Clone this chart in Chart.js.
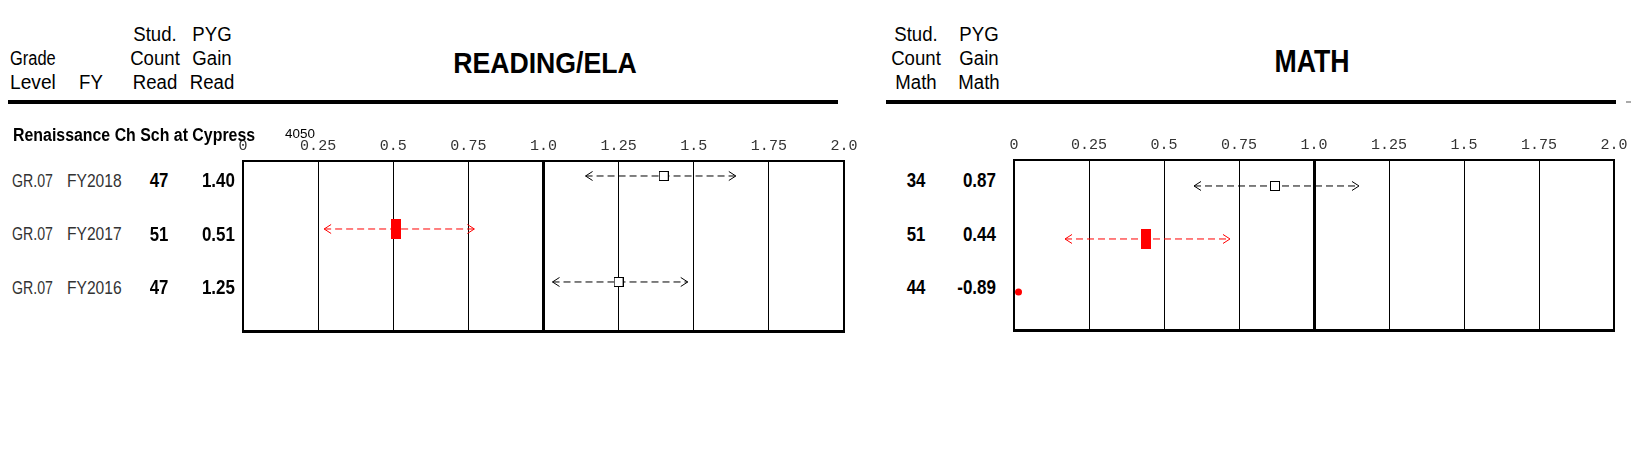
<!DOCTYPE html>
<html>
<head>
<meta charset="utf-8">
<script src="https://cdn.jsdelivr.net/npm/chart.js@4.4.1/dist/chart.umd.min.js"></script>
<style>
body { margin: 0; background: #fff; }
#page { position: relative; width: 1632px; height: 472px; overflow: hidden; background: #fff; font-family: 'Liberation Sans', Arial, sans-serif; }
.t { position: absolute; white-space: nowrap; line-height: 1; }
.rule { position: absolute; background: #000; height: 4px; top: 100px; }
canvas { position: absolute; }
</style>
</head>
<body>
<div id="page">
  <div class="rule" style="left:8px;width:830px"></div>
  <div class="rule" style="left:886px;width:730px"></div>
  <div class="rule" style="left:1626px;width:5px;height:2px;top:101px;background:#aaa"></div>
  <canvas id="readingChart" width="625" height="240" style="left:233px;top:115px"></canvas>
  <canvas id="mathChart" width="625" height="240" style="left:1004px;top:114px"></canvas>
</div>
<script>
const schoolName = 'Renaissance Ch Sch at Cypress';
const schoolCode = '4050';
const gradeLevels = ['GR.07', 'GR.07', 'GR.07'];
const fiscalYears = ['FY2018', 'FY2017', 'FY2016'];

const readCount = [47, 51, 47];
const readGain = [1.40, 0.51, 1.25];
const readLow = [1.14, 0.27, 1.03];
const readHigh = [1.64, 0.77, 1.48];

const mathCount = [34, 51, 44];
const mathGain = [0.87, 0.44, -0.89];
const mathLow = [0.60, 0.17, null];
const mathHigh = [1.15, 0.72, null];

const gainTicks = [0, 0.25, 0.5, 0.75, 1.0, 1.25, 1.5, 1.75, 2.0];
const gainTickLabels = ['0', '0.25', '0.5', '0.75', '1.0', '1.25', '1.5', '1.75', '2.0'];

const page = document.getElementById('page');

// text is placed by its baseline, squeezed a bit like the original report font
function addText(str, x, baseline, opt) {
    opt = opt || {};
    const size = opt.size || 20;
    const d = document.createElement('div');
    d.className = 't';
    d.textContent = str;
    d.style.fontSize = size + 'px';
    d.style.fontWeight = opt.bold ? '700' : '400';
    d.style.color = opt.color || '#000';
    d.style.left = x + 'px';
    d.style.top = (baseline - 0.85 * size) + 'px';
    page.appendChild(d);
    let sx = opt.sx || 0.93;
    if (opt.w) sx = opt.w / d.offsetWidth;
    const align = opt.align || 'left';
    if (align === 'center') {
        d.style.transformOrigin = '50% 50%';
        d.style.transform = 'translateX(-50%) scaleX(' + sx + ')';
    } else if (align === 'right') {
        d.style.transformOrigin = '100% 50%';
        d.style.transform = 'translateX(-100%) scaleX(' + sx + ')';
    } else {
        d.style.transformOrigin = '0 50%';
        d.style.transform = 'scaleX(' + sx + ')';
    }
}

// header
addText('Grade', 10, 65, { w: 46 });
addText('Level', 10, 89, { w: 46 });
addText('FY', 91, 89, { align: 'center' });
[['Stud.', 41], ['Count', 65], ['Read', 89]].forEach(r => addText(r[0], 155, r[1], { align: 'center' }));
[['PYG', 41], ['Gain', 65], ['Read', 89]].forEach(r => addText(r[0], 212, r[1], { align: 'center' }));
[['Stud.', 41], ['Count', 65], ['Math', 89]].forEach(r => addText(r[0], 916, r[1], { align: 'center' }));
[['PYG', 41], ['Gain', 65], ['Math', 89]].forEach(r => addText(r[0], 979, r[1], { align: 'center' }));
addText('READING/ELA', 545, 73, { size: 30, bold: true, align: 'center', w: 184 });
addText('MATH', 1312, 72, { size: 32, bold: true, align: 'center', w: 75 });

addText(schoolName, 13, 141, { size: 18, bold: true, w: 242 });
addText(schoolCode, 285, 138, { size: 13, w: 30 });

for (let i = 0; i < gradeLevels.length; i++) {
    const b = 187 + i * 53.5;
    addText(gradeLevels[i], 12, b, { size: 19, color: '#333', w: 41 });
    addText(fiscalYears[i], 67, b, { size: 19, color: '#333', w: 55 });
    addText(String(readCount[i]), 159, b, { bold: true, align: 'center', sx: 0.84 });
    addText(readGain[i].toFixed(2), 235, b, { bold: true, align: 'right', sx: 0.85 });
    addText(String(mathCount[i]), 916, b, { bold: true, align: 'center', sx: 0.84 });
    addText(mathGain[i].toFixed(2), 996, b, { bold: true, align: 'right', sx: 0.85 });
}

function marker(w, h, draw) {
    const c = document.createElement('canvas');
    c.width = w;
    c.height = h;
    draw(c.getContext('2d'));
    return c;
}
const redBox = marker(10, 20, g => { g.fillStyle = '#ff0000'; g.fillRect(0, 0, 10, 20); });
const openBox = marker(10, 10, g => {
    g.fillStyle = '#fff'; g.fillRect(0, 0, 10, 10);
    g.strokeStyle = '#000'; g.lineWidth = 1; g.strokeRect(0.5, 0.5, 9, 9);
});

function buildDatasets(gain, low, high) {
    const sets = [];
    gain.forEach((g, i) => {
        if (low[i] == null) return;
        const col = high[i] < 1 ? '#ff0000' : '#000';
        sets.push({
            type: 'line',
            data: [{ x: low[i], y: i }, { x: high[i], y: i }],
            borderColor: col,
            borderWidth: 1,
            borderDash: [7, 4],
            pointRadius: 0,
            arrows: true,
            order: 2
        });
    });
    const outside = i => gain[i] < 0 || gain[i] > 2;
    sets.push({
        type: 'scatter',
        data: gain.map((g, i) => ({ x: Math.min(Math.max(g, 0.015), 1.985), y: i })),
        pointStyle: c => outside(c.dataIndex) ? 'circle' : (high[c.dataIndex] < 1 ? redBox : openBox),
        pointRadius: c => outside(c.dataIndex) ? 3.5 : 6,
        backgroundColor: '#ff0000',
        borderWidth: 0,
        order: 1
    });
    return sets;
}

const arrowsAndFrame = {
    id: 'arrowsAndFrame',
    afterDraw(chart) {
        const ctx = chart.ctx;
        const a = chart.chartArea;
        ctx.save();
        chart.data.datasets.forEach((ds, di) => {
            if (!ds.arrows) return;
            const pts = chart.getDatasetMeta(di).data;
            const l = pts[0], r = pts[1];
            ctx.strokeStyle = ds.borderColor;
            ctx.lineWidth = 1;
            ctx.beginPath();
            ctx.moveTo(l.x + 7, l.y - 4.5); ctx.lineTo(l.x, l.y); ctx.lineTo(l.x + 7, l.y + 4.5);
            ctx.moveTo(r.x - 7, r.y - 4.5); ctx.lineTo(r.x, r.y); ctx.lineTo(r.x - 7, r.y + 4.5);
            ctx.stroke();
        });
        ctx.strokeStyle = '#000';
        ctx.lineWidth = 2;
        ctx.strokeRect(a.left, a.top, a.right - a.left, a.bottom - a.top);
        ctx.fillStyle = '#000';
        ctx.fillRect(a.left - 1, a.bottom - 1, a.right - a.left + 2, 3);
        ctx.restore();
    }
};

function createGainChart(canvasId, gain, low, high, yMin, yMax, pad) {
    return new Chart(document.getElementById(canvasId), {
        type: 'scatter',
        data: { datasets: buildDatasets(gain, low, high) },
        options: {
            responsive: false,
            animation: false,
            layout: { padding: pad },
            plugins: { legend: { display: false }, tooltip: { enabled: false } },
            scales: {
                x: {
                    type: 'linear',
                    position: 'top',
                    min: 0,
                    max: 2,
                    afterBuildTicks: s => { s.ticks = gainTicks.map(v => ({ value: v })); },
                    afterFit: s => { s.height = 46; s.paddingLeft = 0; s.paddingRight = 0; },
                    ticks: {
                        callback: (v, i) => gainTickLabels[i],
                        font: { family: "'Liberation Mono', monospace", size: 15 },
                        color: '#333',
                        padding: 6,
                        maxRotation: 0,
                        autoSkip: false
                    },
                    grid: {
                        drawTicks: false,
                        color: '#000',
                        lineWidth: c => {
                            const v = c.tick ? c.tick.value : null;
                            if (v === 1) return 3;
                            if (v === 0 || v === 2) return 0;
                            return 1;
                        }
                    },
                    border: { display: false }
                },
                y: { type: 'linear', display: false, reverse: true, min: yMin, max: yMax }
            }
        },
        plugins: [arrowsAndFrame]
    });
}

createGainChart('readingChart', readGain, readLow, readHigh, -0.283, 2.925, { left: 10, right: 14, top: 0, bottom: 24 });
createGainChart('mathChart', mathGain, mathLow, mathHigh, -0.49, 2.717, { left: 10, right: 15, top: 0, bottom: 24 });
</script>
</body>
</html>
